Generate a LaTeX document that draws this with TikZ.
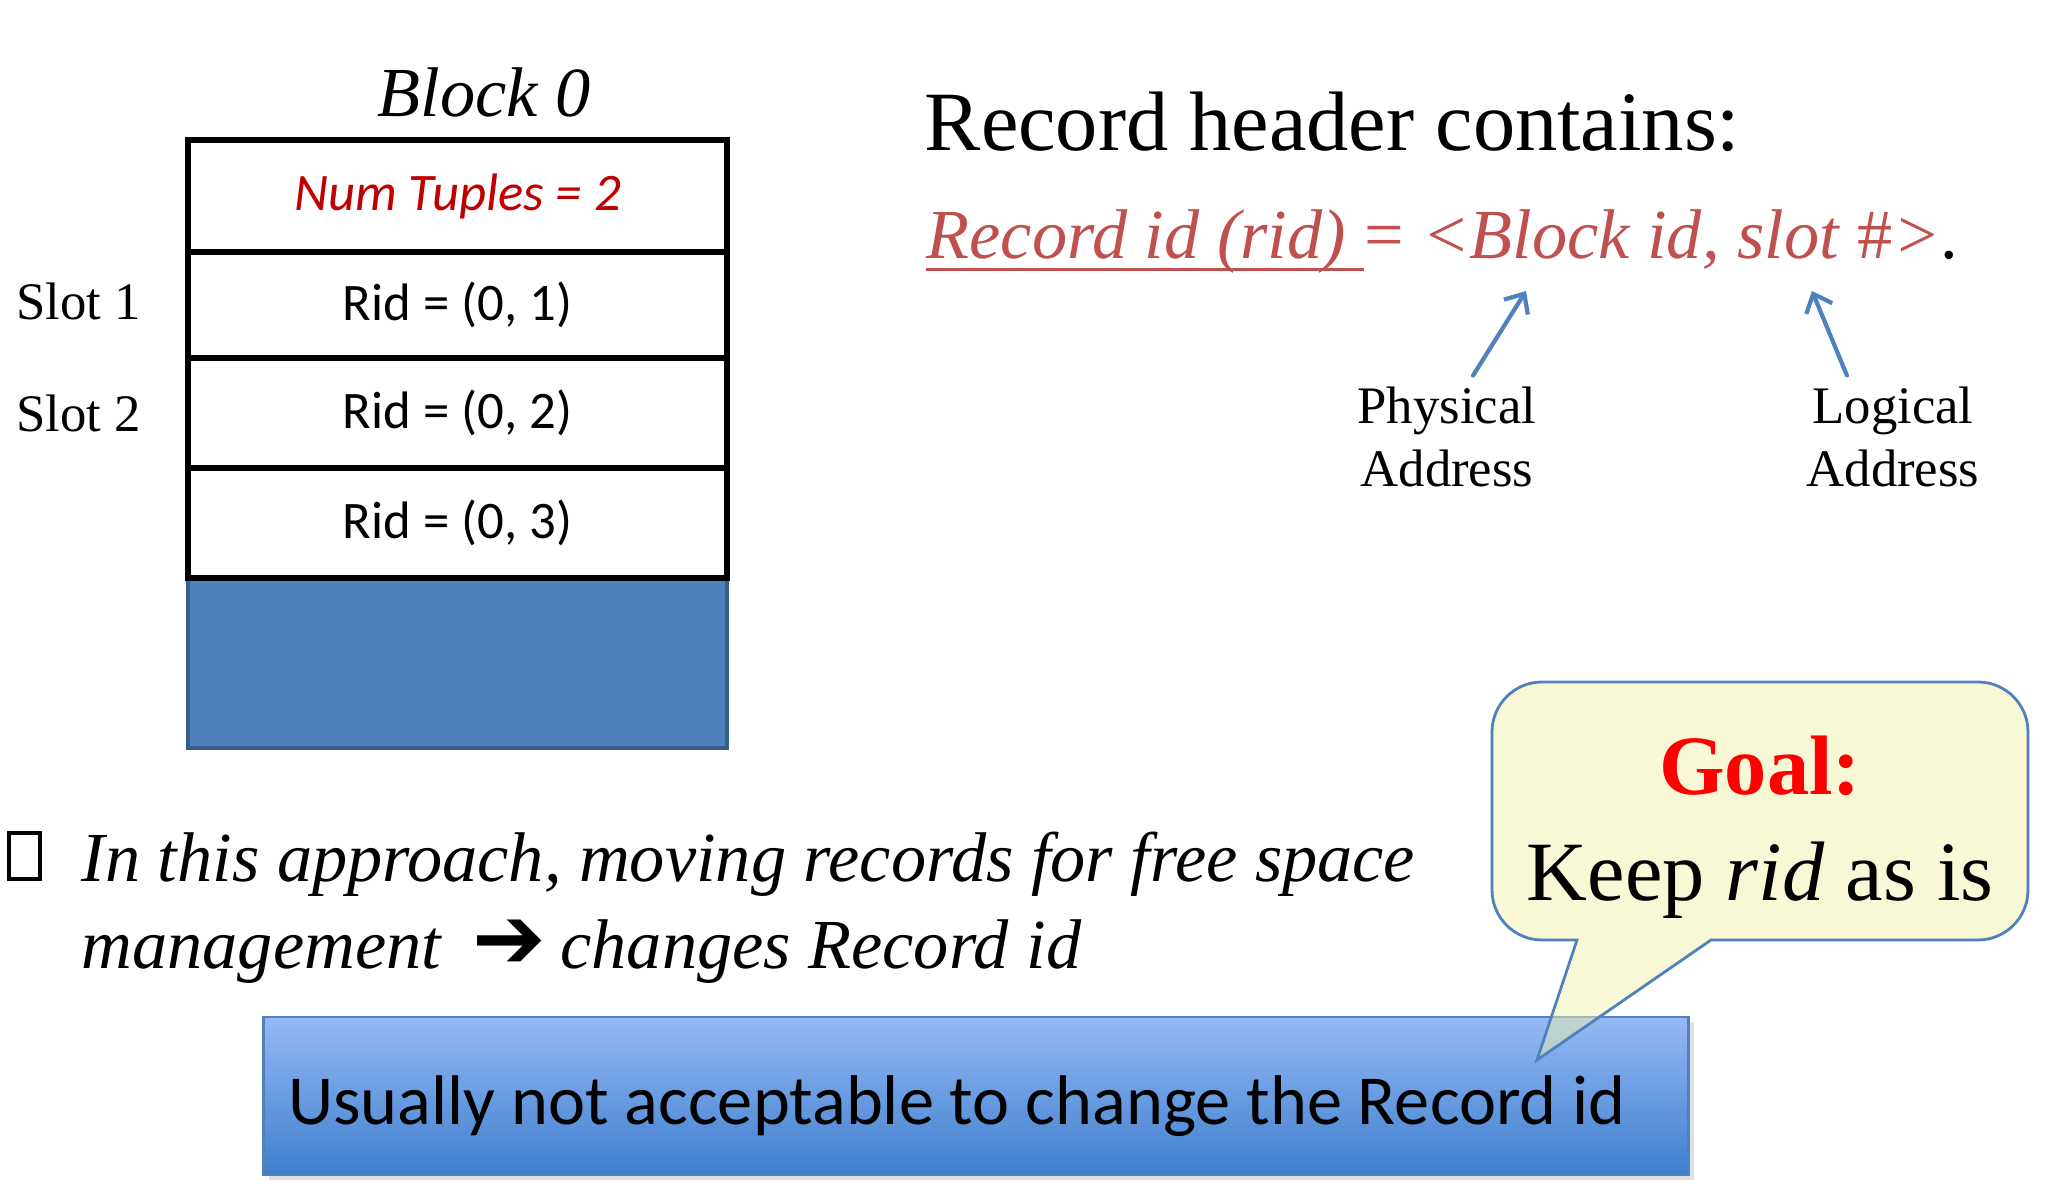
\documentclass[tikz,border=0pt]{standalone}
\usepackage{fontspec}
\setmainfont{Liberation Serif}
\newfontfamily\calibri{Carlito}
\newfontfamily\dejavu{DejaVu Sans}
\usetikzlibrary{positioning, arrows.meta, shadows}

\definecolor{ridred}{RGB}{192,80,77}
\definecolor{darkred}{RGB}{192,0,0}
\definecolor{accblue}{RGB}{79,129,189}
\definecolor{edgeblue}{RGB}{56,93,138}
\definecolor{bubblefill}{RGB}{241,241,173}
\definecolor{notetop}{RGB}{149,185,245}
\definecolor{notebot}{RGB}{62,127,205}

\pgfdeclarelayer{bg}
\pgfsetlayers{bg,main}

\begin{document}
\begin{tikzpicture}[x=0.01cm, y=-0.01cm, node distance=0pt,
    cell/.style={draw, line width=1.6pt, minimum width=5.39cm, outer sep=0pt, inner sep=0pt, font=\calibri\fontsize{15}{18}\selectfont},
    slotlbl/.style={inner sep=0pt, font=\fontsize{15}{18}\selectfont},
    plain/.style={inner sep=0pt, anchor=base west},
    addr/.style={align=center, inner sep=0pt, font=\fontsize{15}{18}\selectfont},
    ptr/.style={accblue, line width=1.2pt, line cap=round, -{Straight Barb[length=4.5pt, width=8pt]}},
  ]
  \useasboundingbox (0,0) rectangle (2048,1204);

  % block 0 and its slots
  \node[plain, anchor=base, font=\itshape\fontsize{20}{24}\selectfont] (title) at (484,117) {Block 0};
  \node[cell, minimum height=1.12cm, text=darkred] (hdr) at (457.5,196) {\itshape Num Tuples = 2};
  \node[cell, minimum height=1.06cm, below=of hdr] (r1) {Rid = (0, 1)};
  \node[cell, minimum height=1.10cm, below=of r1]  (r2) {Rid = (0, 2)};
  \node[cell, minimum height=1.10cm, below=of r2]  (r3) {Rid = (0, 3)};
  \begin{pgfonlayer}{bg}
    \node[cell, minimum height=1.70cm, below=of r3, fill=accblue, draw=edgeblue, line width=1.2pt] (free) {};
  \end{pgfonlayer}

  \node[slotlbl, left=0.46cm of r1, yshift=1.1pt] (s1) {Slot 1};
  \node[slotlbl, left=0.46cm of r2]               (s2) {Slot 2};

  % record header
  \node[plain, font=\fontsize{24}{29}\selectfont] (head) at (924,151) {Record header contains:};
  \node[plain, font=\itshape\fontsize{20}{24}\selectfont, text=ridred] (ridname) at (926,259) {Record id (rid)};
  \node[plain, font=\fontsize{20}{24}\selectfont, text=ridred, right=5pt of ridname.base east, anchor=base west] (ridval)
    {= \textit{<Block id, slot} \#\textit{>}\textcolor{black}{.}};
  \draw[ridred, line width=0.9pt] ([yshift=-3pt]ridname.base west) -- ([yshift=-3pt, xshift=5pt]ridname.base east);

  \coordinate (bidtip)  at (1526,291);
  \coordinate (slottip) at (1812,291);
  \node[addr] (phys) at (1447,437) {Physical\\Address};
  \node[addr] (logi) at (1893,437) {Logical\\Address};
  \draw[ptr] ([xshift=0.26cm, yshift=3pt]phys.north) -- (bidtip);
  \draw[ptr] ([xshift=-0.46cm, yshift=3pt]logi.north) -- (slottip);

  % bullet text
  \node[draw, line width=1pt, minimum width=0.31cm, minimum height=0.46cm, inner sep=0pt, anchor=south west] (bullet) at (7,881) {};
  \node[plain, font=\itshape\fontsize{20}{24}\selectfont] (line1) at (81,882) {In this approach, moving records for free space};
  \node[plain, font=\itshape\fontsize{20}{24}\selectfont] (line2) at (81,969)
    {management\hspace{0.45em}{\upshape\dejavu\fontsize{25}{30}\selectfont ➔}\hspace{0.2em}changes Record id};

  % note and speech bubble
  \node[draw=accblue, line width=0.8pt, top color=notetop, bottom color=notebot,
        minimum width=14.24cm, minimum height=1.58cm, inner sep=0pt, text height=16pt, text depth=0pt,
        font=\calibri\fontsize{20}{24}\selectfont,
        drop shadow={opacity=0.25, shadow xshift=1.5pt, shadow yshift=-1.5pt}] (note) at (976,1096)
    {\makebox[13.75cm][l]{Usually not acceptable to change the Record id}};

  \path[draw=accblue, line width=0.8pt, fill=bubblefill, fill opacity=0.5]
    (1542,682) -- (1978,682) arc[start angle=270, end angle=360, radius=50]
    -- (2028,890) arc[start angle=0, end angle=90, radius=50]
    -- (1711,940) -- (1537,1060) -- (1577,940)
    -- (1542,940) arc[start angle=90, end angle=180, radius=50]
    -- (1492,732) arc[start angle=180, end angle=270, radius=50] -- cycle;

  \node[inner sep=0pt, text=red, font=\bfseries\fontsize{24}{29}\selectfont] (goal) at (1760,766) {Goal:};
  \node[inner sep=0pt, font=\fontsize{24}{29}\selectfont, below=0.45cm of goal] (keep) {Keep \textit{rid} as is};
\end{tikzpicture}
\end{document}
